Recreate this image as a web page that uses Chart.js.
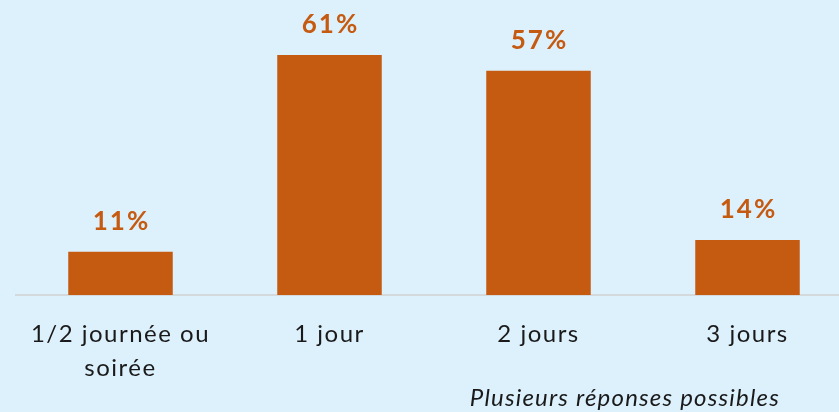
<!DOCTYPE html>
<html>
<head>
<meta charset="utf-8">
<script src="https://cdn.jsdelivr.net/npm/chart.js@4/dist/chart.umd.min.js"></script>
<style>
  html, body { margin: 0; padding: 0; background: #DDF1FC; overflow: hidden; }
  #wrap { width: 839px; height: 412px; overflow: hidden; position: relative; }
</style>
</head>
<body>
<div id="wrap"><canvas id="chart" width="852" height="412"></canvas></div>
<script>
var categories = [['1/2 journée ou', 'soirée'], '1 jour', '2 jours', '3 jours'];
var values = [11, 61, 57, 14];
var valueLabels = ['11%', '61%', '57%', '14%'];
var footnote = 'Plusieurs réponses possibles';

var orange = '#C55A11';

// espacement des lettres, comme dans l'original
var spacingPlugin = {
  id: 'spacing',
  beforeDraw: function (chart) {
    chart.ctx.letterSpacing = '1.5px';
  }
};

// valeurs au-dessus des barres + mention en bas
var labelsPlugin = {
  id: 'labels',
  afterDatasetsDraw: function (chart) {
    var ctx = chart.ctx;
    var meta = chart.getDatasetMeta(0);
    ctx.save();
    ctx.letterSpacing = '2px';
    ctx.fillStyle = orange;
    ctx.font = 'bold 26px Lato';
    ctx.textAlign = 'center';
    ctx.textBaseline = 'alphabetic';
    meta.data.forEach(function (bar, i) {
      ctx.fillText(valueLabels[i], bar.x + 1, bar.y - 22);
    });
    ctx.letterSpacing = '1.2px';
    ctx.fillStyle = '#1a1a1a';
    ctx.font = 'italic 24px Lato';
    ctx.textAlign = 'right';
    ctx.fillText(footnote, 780, 406);
    ctx.restore();
  }
};

new Chart(document.getElementById('chart'), {
  type: 'bar',
  data: {
    labels: categories,
    datasets: [{
      data: values,
      backgroundColor: orange,
      barPercentage: 0.5,
      categoryPercentage: 1
    }]
  },
  options: {
    responsive: false,
    animation: false,
    layout: { padding: { left: 16, right: 0, top: 0, bottom: 0 } },
    plugins: { legend: { display: false }, tooltip: { enabled: false } },
    scales: {
      x: {
        grid: { display: false, drawTicks: false },
        border: { display: true, color: '#D4D9DC', width: 2 },
        ticks: {
          color: '#1a1a1a',
          font: { family: 'Lato', size: 24, lineHeight: 1.42 },
          padding: 22,
          maxRotation: 0,
          autoSkip: false
        },
        afterFit: function (scale) { scale.height = 117; }
      },
      y: {
        display: false,
        min: 0,
        max: 75
      }
    }
  },
  plugins: [spacingPlugin, labelsPlugin]
});
</script>
</body>
</html>
